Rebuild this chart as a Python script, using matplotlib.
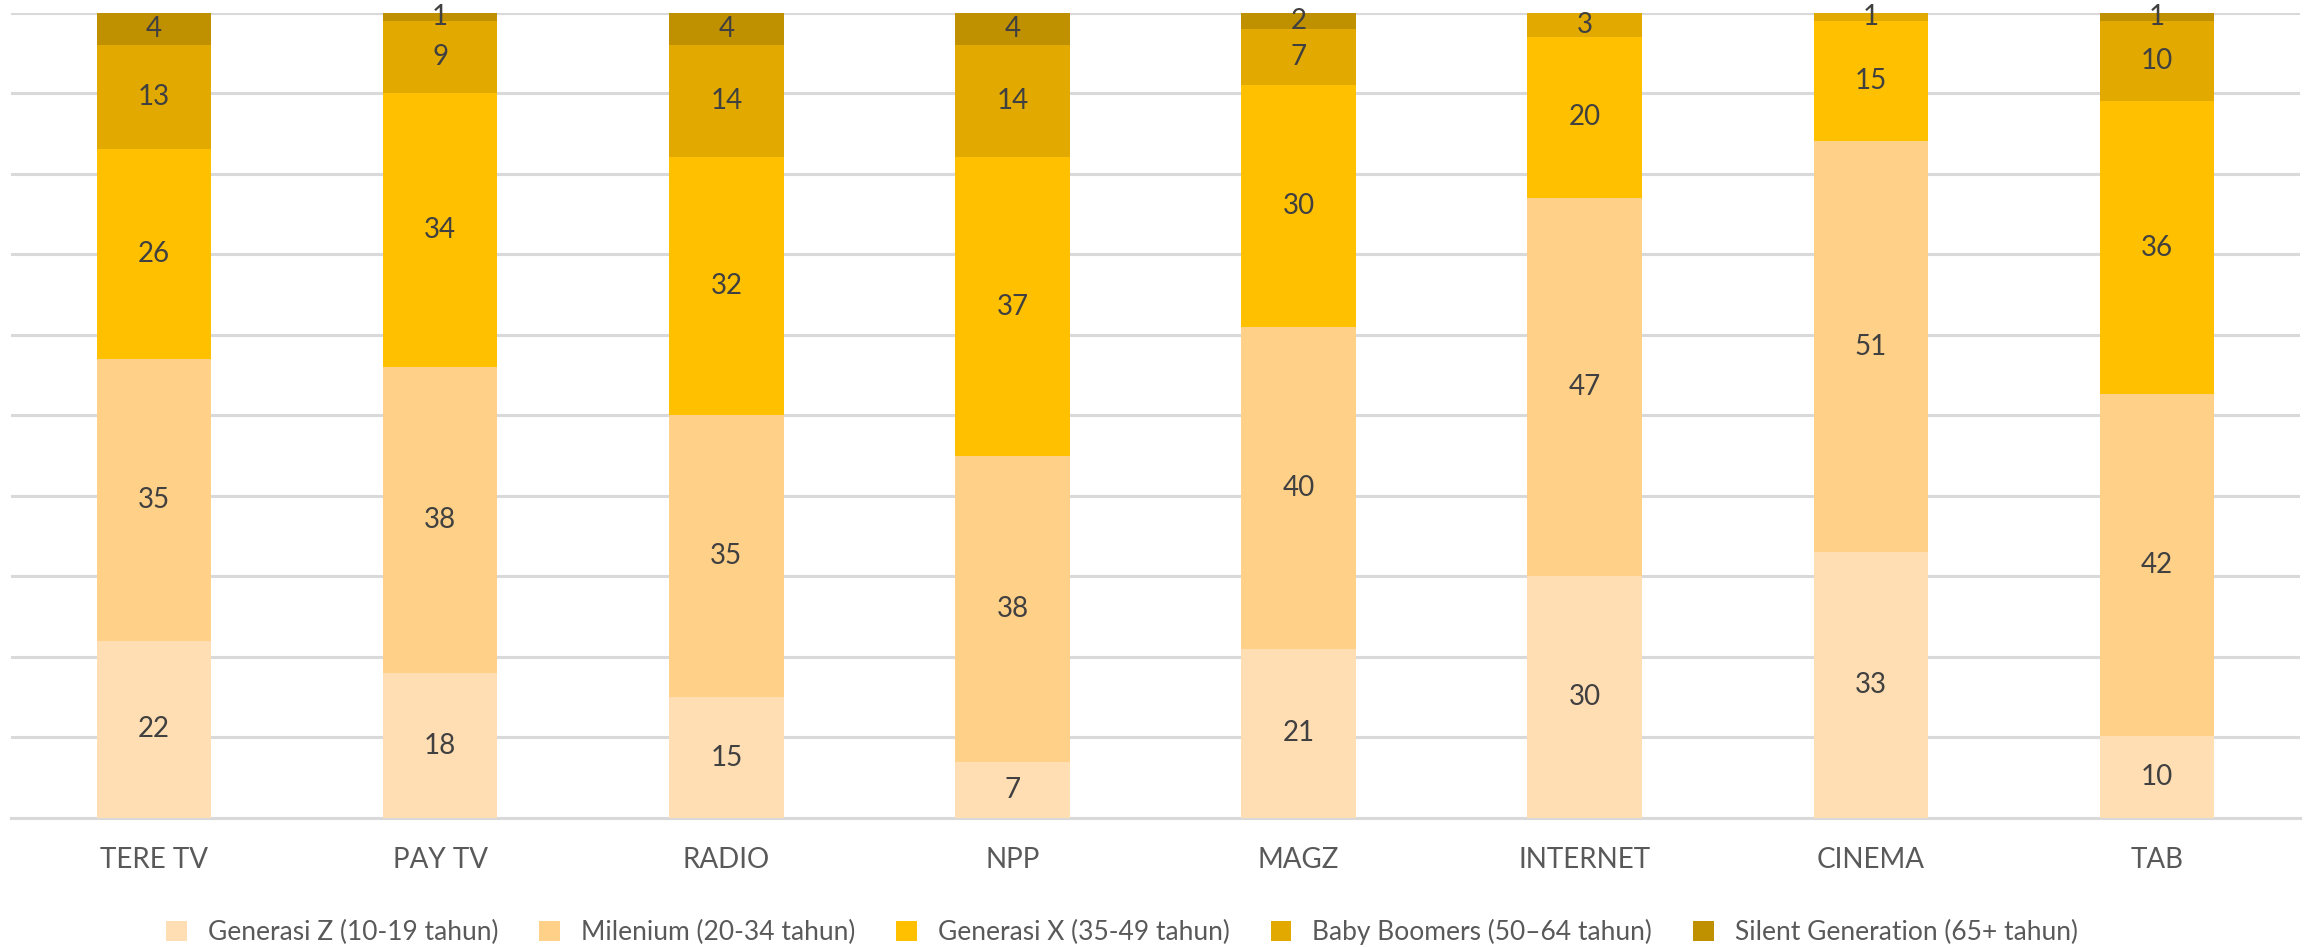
import matplotlib
matplotlib.use("Agg")
import matplotlib.pyplot as plt
import numpy as np

plt.rcParams["font.family"] = ["Lato", "DejaVu Sans"]

categories = ["TERE TV", "PAY TV", "RADIO", "NPP", "MAGZ", "INTERNET", "CINEMA", "TAB"]

gen_z = [22, 18, 15, 7, 21, 30, 33, 10.2]
milenium = [35, 38, 35, 38, 40, 47, 51, 42.4]
gen_x = [26, 34, 32, 37, 30, 20, 15, 36.4]
baby_boomers = [13, 9, 14, 14, 7, 3, 1, 10]
silent = [4, 1, 4, 4, 2, 0, 0, 1]

series_names = [
    "Generasi Z (10-19 tahun)",
    "Milenium (20-34 tahun)",
    "Generasi X (35-49 tahun)",
    "Baby Boomers (50\u201364 tahun)",
    "Silent Generation (65+ tahun)",
]
series = [gen_z, milenium, gen_x, baby_boomers, silent]
colors = ["#FFDEB4", "#FFD088", "#FFC000", "#E2AA00", "#BF9000"]

fig = plt.figure(figsize=(23.11, 9.47), dpi=100)
ax = fig.add_axes([0.0048, 0.1362, 0.9904, 0.8506])

x = np.arange(len(categories))
bottom = np.zeros(len(categories))
for name, vals, col in zip(series_names, series, colors):
    vals = np.array(vals, dtype=float)
    bars = ax.bar(x, vals, width=0.4, bottom=bottom, color=col, label=name, zorder=3)
    labels = ["%.0f" % v if v > 0 else "" for v in vals]
    ax.bar_label(bars, labels=labels, label_type="center", fontsize=20, color="#404040")
    bottom += vals

ax.set_xlim(-0.5, 7.5)
ax.set_ylim(0, 100)
ax.set_yticks(range(0, 101, 10))
ax.yaxis.grid(True, color="#D9D9D9", linewidth=2.2, zorder=0)
ax.set_yticklabels([])
ax.tick_params(axis="y", length=0)
ax.tick_params(axis="x", length=0, pad=21, labelsize=20, labelcolor="#595959")
ax.set_xticks(x)
ax.set_xticklabels(categories)
for s in ["top", "right", "left"]:
    ax.spines[s].set_visible(False)
ax.spines["bottom"].set_color("#D9D9D9")
ax.spines["bottom"].set_linewidth(2.2)

fig.legend(
    loc="center",
    bbox_to_anchor=(0.4855, 0.016),
    ncol=5,
    frameon=False,
    fontsize=19,
    labelcolor="#595959",
    handlelength=0.78,
    handleheight=0.78,
    handletextpad=0.8,
    columnspacing=1.55,
)

fig.savefig("out.png", dpi=100)
